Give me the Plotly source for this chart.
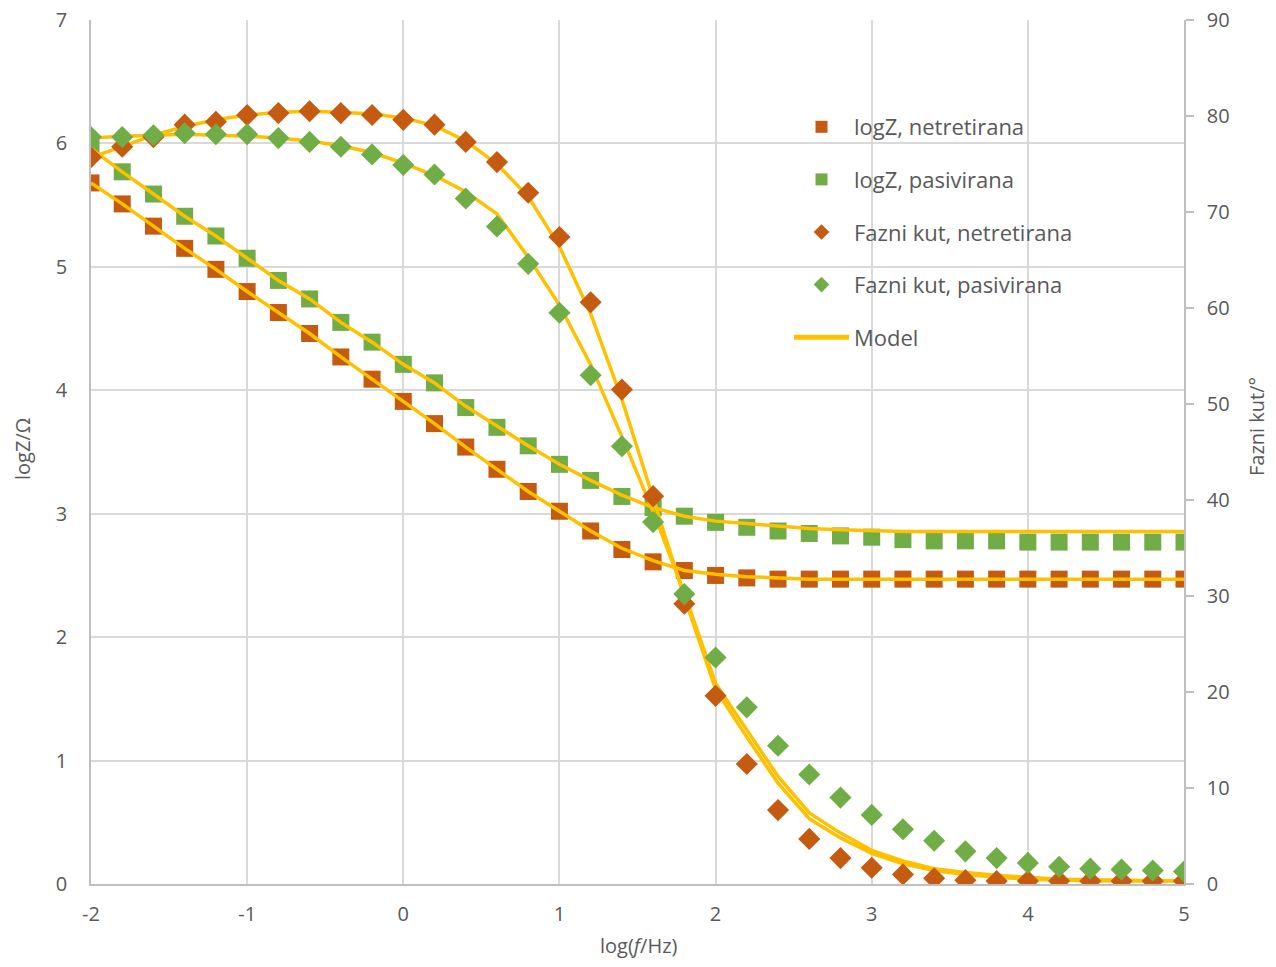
import plotly.graph_objects as go

log_f = [-2.0, -1.8, -1.6, -1.4, -1.2, -1.0, -0.8, -0.6, -0.4, -0.2, 0.0, 0.2, 0.4, 0.6, 0.8, 1.0, 1.2, 1.4,
         1.6, 1.8, 2.0, 2.2, 2.4, 2.6, 2.8, 3.0, 3.2, 3.4, 3.6, 3.8, 4.0, 4.2, 4.4, 4.6, 4.8, 5.0]

logz_netretirana = [5.68, 5.51, 5.33, 5.15, 4.98, 4.80, 4.63, 4.46, 4.27, 4.09, 3.91, 3.73, 3.54, 3.36, 3.18, 3.02,
                    2.86, 2.71, 2.61, 2.54, 2.50, 2.48, 2.47, 2.47, 2.47, 2.47, 2.47, 2.47, 2.47, 2.47, 2.47, 2.47,
                    2.47, 2.47, 2.47, 2.47]
logz_pasivirana = [5.96, 5.77, 5.59, 5.41, 5.25, 5.07, 4.89, 4.74, 4.55, 4.39, 4.21, 4.06, 3.86, 3.70, 3.55, 3.40,
                   3.27, 3.14, 3.05, 2.98, 2.93, 2.89, 2.86, 2.84, 2.82, 2.81, 2.79, 2.78, 2.78, 2.78, 2.77, 2.77,
                   2.77, 2.77, 2.77, 2.77]
faza_netretirana = [75.7, 76.8, 77.8, 79.1, 79.4, 80.1, 80.3, 80.5, 80.3, 80.1, 79.6, 79.1, 77.3, 75.2, 72.0, 67.4,
                    60.6, 51.5, 40.4, 29.2, 19.6, 12.5, 7.7, 4.7, 2.7, 1.7, 1.0, 0.6, 0.4, 0.3, 0.3, 0.3,
                    0.3, 0.3, 0.3, 0.3]
faza_pasivirana = [77.8, 77.8, 78.0, 78.2, 78.1, 78.1, 77.7, 77.3, 76.8, 76.0, 74.9, 73.9, 71.4, 68.5, 64.6, 59.5,
                   53.0, 45.6, 37.7, 30.2, 23.6, 18.4, 14.4, 11.4, 9.0, 7.2, 5.7, 4.5, 3.4, 2.7, 2.2, 1.8,
                   1.6, 1.5, 1.4, 1.3]

model_logz_netretirana = [5.68, 5.51, 5.33, 5.15, 4.98, 4.80, 4.63, 4.46, 4.27, 4.09, 3.91, 3.73, 3.54, 3.36, 3.18,
                          3.02, 2.86, 2.72, 2.62, 2.54, 2.51, 2.49, 2.48, 2.47, 2.47, 2.47, 2.47, 2.47, 2.47, 2.47,
                          2.47, 2.47, 2.47, 2.47, 2.47, 2.47]
model_logz_pasivirana = [5.96, 5.77, 5.59, 5.41, 5.25, 5.07, 4.89, 4.74, 4.55, 4.39, 4.21, 4.06, 3.87, 3.71, 3.55,
                         3.40, 3.27, 3.15, 3.05, 2.98, 2.94, 2.92, 2.90, 2.88, 2.87, 2.86, 2.855, 2.855, 2.855,
                         2.855, 2.855, 2.855, 2.855, 2.855, 2.855, 2.855]
model_faza_netretirana = [75.7, 76.8, 78.0, 78.9, 79.6, 80.1, 80.4, 80.5, 80.4, 80.2, 79.8, 79.0, 77.4, 75.0, 71.6,
                          66.4, 59.4, 50.5, 40.2, 29.9, 20.3, 15.3, 10.5, 6.8, 4.8, 3.2, 2.1, 1.4, 1.0, 0.7, 0.5,
                          0.4, 0.35, 0.3, 0.3, 0.3]
model_faza_pasivirana = [77.7, 77.9, 78.0, 78.1, 78.0, 77.9, 77.7, 77.4, 76.9, 76.2, 75.1, 73.8, 72.1, 69.8, 65.3,
                         60.3, 54.1, 46.6, 38.8, 30.3, 20.9, 16.0, 11.2, 7.4, 5.3, 3.5, 2.4, 1.6, 1.2, 0.9, 0.7,
                         0.5, 0.45, 0.4, 0.35, 0.3]

x_ticks = [-2, -1, 0, 1, 2, 3, 4, 5]
x_ticklabels = ["-2", "-1", "0", "1", "2", "3", "4", "5"]
y_ticks = [0, 1, 2, 3, 4, 5, 6, 7]
y2_ticks = [0, 10, 20, 30, 40, 50, 60, 70, 80, 90]

ORANGE = "#C55A11"
GREEN = "#70AD47"
GOLD = "#FFC000"
TXT = "#595959"
FONT = "Open Sans"
AXC = "#BFBFBF"
GRID = "#D9D9D9"

fig = go.Figure()

fig.add_trace(go.Scatter(x=log_f, y=logz_netretirana, mode="markers", name="logZ, netretirana",
                         marker=dict(symbol="square", size=17, color=ORANGE),
                         legendgroup="a", legendrank=1))
fig.add_trace(go.Scatter(x=log_f, y=logz_pasivirana, mode="markers", name="logZ, pasivirana",
                         marker=dict(symbol="square", size=17, color=GREEN),
                         legendgroup="b", legendrank=2))
fig.add_trace(go.Scatter(x=log_f, y=model_logz_netretirana, mode="lines", name="Model",
                         line=dict(color=GOLD, width=3.5), legendgroup="e", legendrank=5))
fig.add_trace(go.Scatter(x=log_f, y=model_logz_pasivirana, mode="lines", name="Model",
                         line=dict(color=GOLD, width=3.5), legendgroup="e", showlegend=False))
fig.add_trace(go.Scatter(x=log_f, y=model_faza_netretirana, mode="lines", name="Model", yaxis="y2",
                         line=dict(color=GOLD, width=3.5), legendgroup="e", showlegend=False))
fig.add_trace(go.Scatter(x=log_f, y=model_faza_pasivirana, mode="lines", name="Model", yaxis="y2",
                         line=dict(color=GOLD, width=3.5), legendgroup="e", showlegend=False))
fig.add_trace(go.Scatter(x=log_f, y=faza_netretirana, mode="markers", name="Fazni kut, netretirana", yaxis="y2",
                         marker=dict(symbol="diamond", size=17, color=ORANGE),
                         legendgroup="c", legendrank=3))
fig.add_trace(go.Scatter(x=log_f, y=faza_pasivirana, mode="markers", name="Fazni kut, pasivirana", yaxis="y2",
                         marker=dict(symbol="diamond", size=17, color=GREEN),
                         legendgroup="d", legendrank=4))

# page has an 8px body margin: figure sits at (8, 8)
OFF = 8
W, H = 1276 - 2 * OFF, 967 - 2 * OFF
L = 91 - OFF
T = 20 - OFF
R = W - (1184 - OFF)
B = H - (884 - OFF)
PW = W - L - R
PH = H - T - B


def px_x(p):
    return (p - OFF - L) / PW


def px_y(p):
    return (H - B - (p - OFF)) / PH


fig.update_layout(
    width=W, height=H,
    margin=dict(l=L, r=R, t=T, b=B, autoexpand=False),
    paper_bgcolor="white", plot_bgcolor="white",
    font=dict(family=FONT, color=TXT, size=20),
    showlegend=True,
    legend=dict(x=px_x(789), y=px_y(106), xanchor="left", yanchor="top",
                bgcolor="rgba(0,0,0,0)", font=dict(size=22, color=TXT, family=FONT),
                traceorder="grouped", tracegroupgap=21, itemsizing="constant", itemwidth=55),
    xaxis=dict(range=[-2, 5], tickvals=x_ticks, ticktext=x_ticklabels, showgrid=True, gridcolor=GRID,
               gridwidth=1.5, showline=True, linecolor=AXC, linewidth=1.5, zeroline=False, automargin=False,
               ticks="", ticklabelstandoff=11, ticklabeloverflow="allow", tickfont=dict(size=20, color=TXT)),
    yaxis=dict(range=[0, 7], tickvals=y_ticks, showgrid=True, gridcolor=GRID,
               gridwidth=1.5, showline=True, linecolor=AXC, linewidth=1.5, zeroline=False, automargin=False,
               ticks="", ticklabelstandoff=18, ticklabeloverflow="allow", tickfont=dict(size=20, color=TXT)),
    yaxis2=dict(range=[0, 90], tickvals=y2_ticks, overlaying="y", side="right",
                showgrid=False, showline=True, linecolor=AXC, linewidth=1.5, zeroline=False, automargin=False,
                ticks="outside", ticklen=8, tickwidth=1.5, tickcolor=AXC, ticklabelstandoff=9,
                ticklabeloverflow="allow", tickfont=dict(size=20, color=TXT)),
    annotations=[
        dict(text="log(<i>f</i>/Hz)", x=px_x(639), y=px_y(945), xref="paper", yref="paper",
             showarrow=False, font=dict(size=20, color=TXT), xanchor="center", yanchor="middle"),
        dict(text="logZ/Ω", x=px_x(22), y=px_y(449), xref="paper", yref="paper", textangle=-90,
             showarrow=False, font=dict(size=20, color=TXT), xanchor="center", yanchor="middle"),
        dict(text="Fazni kut/°", x=px_x(1257), y=px_y(427), xref="paper", yref="paper", textangle=-90,
             showarrow=False, font=dict(size=20, color=TXT), xanchor="center", yanchor="middle"),
    ],
)

fig.write_html("out.html")
